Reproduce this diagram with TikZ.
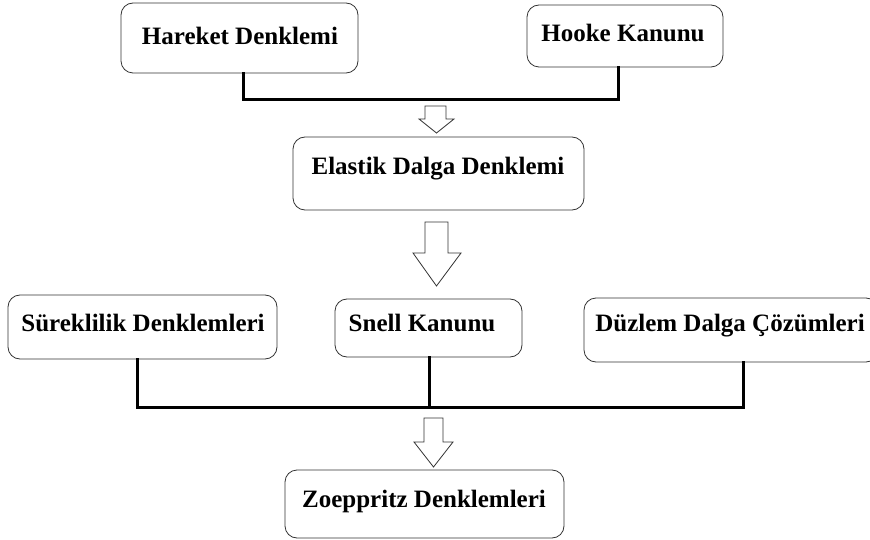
\documentclass[tikz,border=0pt]{standalone}
\usepackage{fontspec}
\setmainfont{Liberation Serif}
\begin{document}
\begin{tikzpicture}[x=1pt,y=-1pt,
  boxshape/.style={draw=black!80,line width=0.8pt,rounded corners=12pt,fill=white},
  lbl/.style={font=\fontsize{25}{28}\selectfont\bfseries,inner sep=0pt,anchor=center},
  conn/.style={line width=3pt,line cap=rect},
  blockarrow/.style={draw=black!80,line width=0.8pt,fill=white,line join=miter}]
\useasboundingbox[fill=white] (0,0) rectangle (870,540);
% boxes
\newcommand{\mybox}[6]{%
  \path[boxshape] (#1,#2) rectangle (#3,#4);
  \node[inner sep=0pt,minimum width={#3-#1},minimum height={#4-#2}] (#5) at ({(#1+#3)/2},{(#2+#4)/2}) {};
}
\mybox{121}{3}{358}{73}{hareket}{}
\mybox{527}{5}{723}{67}{hooke}{}
\mybox{293}{137}{584}{210}{elastik}{}
\mybox{8}{295}{277}{359}{sureklilik}{}
\mybox{335}{299}{522}{357}{snell}{}
\mybox{584}{298}{878}{362}{duzlem}{}
\mybox{285}{470}{564}{538}{zoeppritz}{}
\node[lbl] (t1) at (240,36) {Hareket Denklemi};
\node[lbl] (t2) at (623,33) {Hooke Kanunu};
\node[lbl] (t3) at (438,169) {Elastik Dalga Denklemi};
\node[lbl] (t4) at (143,323) {Süreklilik Denklemleri};
\node[lbl] (t5) at (422,323) {Snell Kanunu};
\node[lbl] (t6) at (730,326) {Düzlem Dalga Çözümleri};
\node[lbl] (t7) at (424,501) {Zoeppritz Denklemleri};
% connectors
\coordinate (j1) at (243,100);
\coordinate (j2) at (618,100);
\draw[conn] (hareket.south -| j1) -- (j1) -- (j2) -- (hooke.south -| j2);
\coordinate (j3) at (137,407);
\coordinate (j4) at (743,407);
\coordinate (j5) at (429,407);
\draw[conn] (sureklilik.south -| j3) -- (j3) -- (j4) -- (duzlem.south -| j4);
\draw[conn] (snell.south -| j5) -- (j5);
% block arrows
\draw[blockarrow] (425,106) -- (446,106) -- (446,119) -- (454,119) -- (436.5,133) -- (419,119) -- (425,119) -- cycle;
\draw[blockarrow] (425,222) -- (448,222) -- (448,253) -- (461,253) -- (436.5,286) -- (413,253) -- (425,253) -- cycle;
\draw[blockarrow] (424,418) -- (443,418) -- (443,442) -- (453,442) -- (433.5,467) -- (414,442) -- (424,442) -- cycle;
\end{tikzpicture}
\end{document}
